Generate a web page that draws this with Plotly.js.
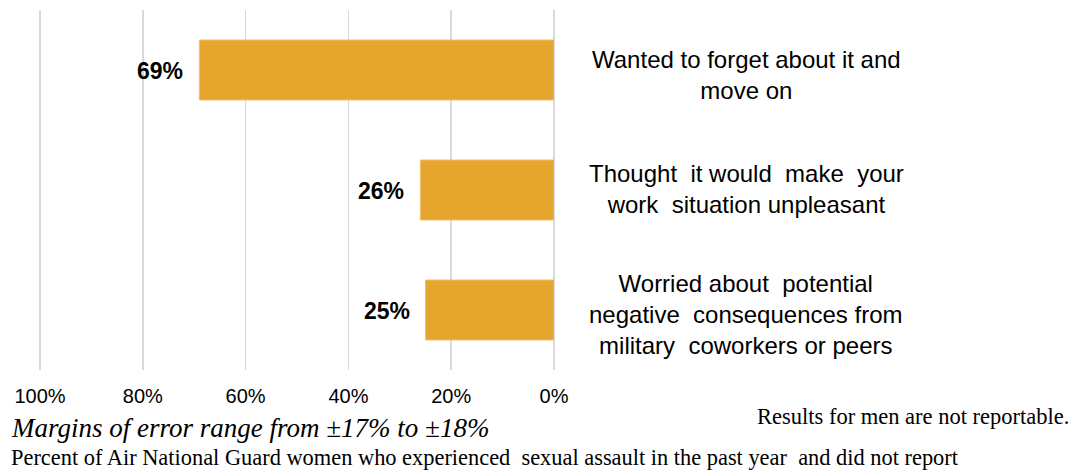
<!DOCTYPE html>
<html>
<head>
<meta charset="utf-8">
<script src="https://cdn.plot.ly/plotly-3.0.1.min.js"></script>
<style>
html,body{margin:0;padding:0;background:#fff;}
#chart{width:1071px;height:470px;}
</style>
</head>
<body>
<div id="chart"></div>
<script>
const categories = [
  "Wanted to forget about it and<br>move on",
  "Thought  it would  make  your<br>work  situation unpleasant",
  "Worried about  potential<br>negative  consequences from<br>military  coworkers or peers"
];
const values = [69, 26, 25];
const valueLabels = ["69%", "26%", "25%"];
const tickValues = [0, 20, 40, 60, 80, 100];
const tickLabels = ["0%", "20%", "40%", "60%", "80%", "100%"];

const barColor = "#E6A52D";
const sans = "Liberation Sans, Arial, sans-serif";
const serif = "Liberation Serif, Times New Roman, serif";
const labelYShift = [-5, 1, -4];

const trace = {
  type: "bar",
  orientation: "h",
  x: values,
  y: categories,
  width: 0.5,
  marker: {color: barColor, line: {color: "#F0C070", width: 1}},
  hoverinfo: "none"
};

const annotations = [];
categories.forEach((c, i) => {
  annotations.push({
    xref: "x", yref: "y", x: values[i], y: c,
    text: "<b>" + valueLabels[i] + "</b>",
    showarrow: false, xanchor: "right", yanchor: "middle",
    xshift: -14, yshift: -1,
    font: {family: sans, size: 23, color: "#000"}
  });
  annotations.push({
    xref: "paper", yref: "y", x: 1.3735, y: c,
    text: c, showarrow: false, xanchor: "center", yanchor: "middle", align: "center",
    yshift: labelYShift[i],
    font: {family: sans, size: 24, color: "#000"}
  });
});
annotations.push({
  xref: "paper", yref: "paper", x: 2.004, y: -0.128,
  text: "Results for men are not reportable.", showarrow: false,
  xanchor: "right", yanchor: "middle",
  font: {family: serif, size: 22.5, color: "#000"}
});
annotations.push({
  xref: "paper", yref: "paper", x: -0.058, y: -0.16,
  text: "<i>Margins of error range from ±17% to ±18%</i>", showarrow: false,
  xanchor: "left", yanchor: "middle",
  font: {family: serif, size: 27, color: "#000"}
});
annotations.push({
  xref: "paper", yref: "paper", x: -0.058, y: -0.243,
  text: "Percent of Air National Guard women who experienced  sexual assault in the past year  and did not report", showarrow: false,
  xanchor: "left", yanchor: "middle",
  font: {family: serif, size: 22.4, color: "#000"}
});

const layout = {
  width: 1071, height: 470,
  margin: {l: 39, r: 517, t: 10, b: 100},
  paper_bgcolor: "#fff", plot_bgcolor: "#fff",
  showlegend: false,
  xaxis: {
    range: [100.2, 0],
    tickvals: tickValues, ticktext: tickLabels,
    showgrid: true, gridcolor: "#D9D9D9", gridwidth: 1.5,
    zeroline: true, zerolinecolor: "#D9D9D9", zerolinewidth: 1.5,
    showline: false, ticks: "",
    ticklabelstandoff: 12,
    tickfont: {family: sans, size: 20, color: "#000"},
    fixedrange: true
  },
  yaxis: {
    type: "category",
    categoryorder: "array", categoryarray: categories,
    autorange: "reversed",
    range: [2.5, -0.5],
    showticklabels: false, showgrid: false, zeroline: false, showline: false, ticks: "",
    fixedrange: true
  },
  annotations: annotations
};

Plotly.newPlot("chart", [trace], layout, {displayModeBar: false, staticPlot: true});
</script>
</body>
</html>
